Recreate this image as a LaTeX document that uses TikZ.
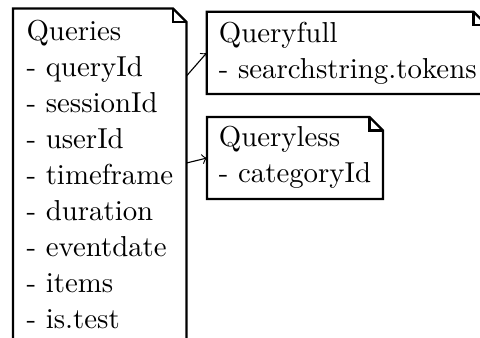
\documentclass[tikz,border=0pt]{standalone}
\usetikzlibrary{calc}
\newcommand\pxu{0.35714pt}
\tikzset{
  notebox/.style={anchor=north west, inner sep=0pt, outer sep=0pt, draw=none},
  boxline/.style={line width=0.8pt, line join=miter},
  notetext/.style={anchor=base west, inner sep=0pt, align=left,
    font=\fontsize{10.3pt}{12.857pt}\selectfont},
  conn/.style={->, line width=0.4pt}
}
\newcommand\drawnote[2]{%
  \draw[boxline] (#1.south west) -- (#1.north west) -- ($(#1.north east)+(-#2,0)$)
    -- ($(#1.north east)+(0,#2)$) -- (#1.south east) -- cycle;
  \draw[boxline] ($(#1.north east)+(-#2,0)$) -- ($(#1.north east)+(-#2,#2)$)
    -- ($(#1.north east)+(0,#2)$);
}
\begin{document}
\begin{tikzpicture}[x=0.35714pt, y=-0.35714pt]
  \useasboundingbox (0,0) rectangle (480,337);
  \clip (0,0) rectangle (480,337);
  % boxes
  \node[notebox, minimum width=173.5*\pxu, minimum height=352*\pxu] (queries) at (13,8.5) {};
  \node[notebox, minimum width=280.3*\pxu, minimum height=82.3*\pxu] (queryfull) at (206.7,11.7) {};
  \node[notebox, minimum width=176*\pxu, minimum height=82*\pxu] (queryless) at (207,117) {};
  \drawnote{queries}{13.5}
  \drawnote{queryfull}{13.5}
  \drawnote{queryless}{13.5}
  % texts (anchor at the baseline of the last line)
  \node[notetext] (queriestext) at (26,328) {Queries\\- queryId\\- sessionId\\- userId\\- timeframe\\- duration\\- eventdate\\- items\\- is.test};
  \node[notetext] (queryfulltext) at (218.3,78.7) {Queryfull\\- searchstring.tokens};
  \node[notetext] (querylesstext) at (218.3,182.7) {Queryless\\- categoryId};
  % connectors
  \coordinate (qa) at ($(queries.north east)+(0,67.5)$);
  \coordinate (qb) at ($(queries.north east)+(0,154.5)$);
  \draw[conn] (qa) -- (queryfull.west);
  \draw[conn] (qb) -- (queryless.west);
\end{tikzpicture}
\end{document}
